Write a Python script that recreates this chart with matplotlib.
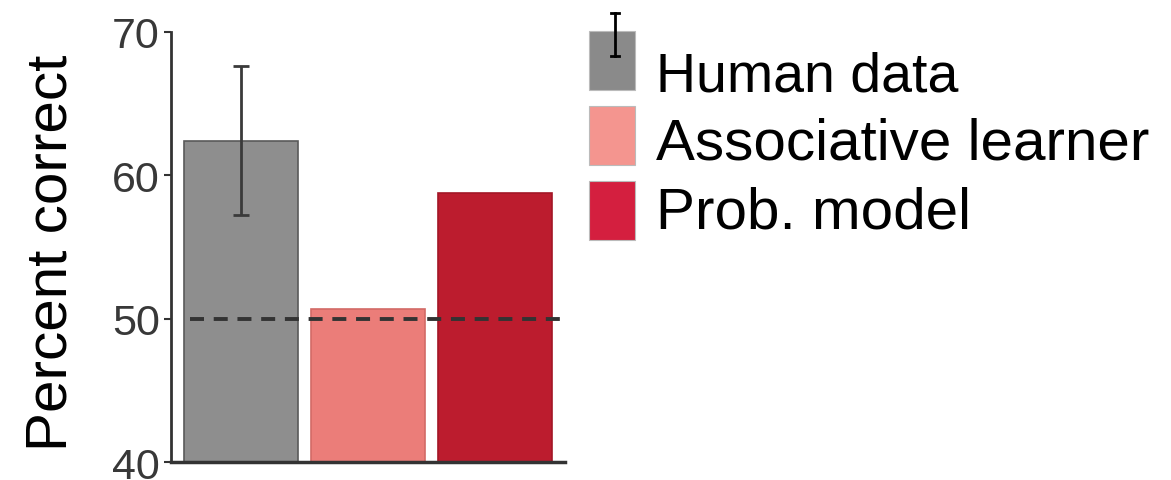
import matplotlib
matplotlib.use('Agg')
import matplotlib.pyplot as plt
from matplotlib.patches import Rectangle
from matplotlib.lines import Line2D

plt.rcParams['font.family'] = ['Liberation Sans', 'DejaVu Sans']

# percent correct per condition
labels = ['Human data', 'Associative learner', 'Prob. model']
values = [62.4, 50.7, 58.8]
human_err = 5.2
chance = 50
yticks = [40, 50, 60, 70]

bar_colors = ['#8e8e8e', '#eb7d79', '#bc1c2e']
bar_edges = ['#5a5a5a', '#d26a66', '#a31626']
legend_colors = ['#8a8a8a', '#f4958f', '#d41f3f']

W, H = 1171, 481
fig = plt.figure(figsize=(W / 100, H / 100), dpi=100)
ax = fig.add_axes([0.146, 0.0374, 0.3365, 0.894])

x = range(len(values))
ax.bar(x, values, width=0.9, color=bar_colors, edgecolor=bar_edges,
       linewidth=1.2, zorder=2)
ax.errorbar(0, values[0], yerr=human_err, fmt='none', ecolor='#3a3a3a',
            elinewidth=2, capsize=6, capthick=2, zorder=3)
ax.hlines(chance, -0.4, 2.55, colors='#333333', linestyles=(0, (3.6, 2.5)),
          linewidth=2.8, zorder=4)

ax.set_xlim(-0.55, 2.55)
ax.set_ylim(40, 70)
ax.set_yticks(yticks)
ax.set_xticks([])
for s in ['top', 'right']:
    ax.spines[s].set_visible(False)
ax.spines['left'].set_linewidth(2)
ax.spines['left'].set_color('#333333')
ax.spines['bottom'].set_linewidth(2.5)
ax.spines['bottom'].set_color('#333333')
ax.tick_params(axis='y', length=5, width=1.5, color='#333333', pad=3,
               labelsize=31, labelcolor='#383838')

fig.text(67 / W, 1 - 253 / H, 'Percent correct', rotation=90,
         rotation_mode='anchor', ha='center', va='baseline', fontsize=42)

# legend, drawn by hand in figure pixels
boxes = [(589, 32), (589, 107), (589, 182)]
baselines = [92, 160, 229]
sizes = [40, 42, 42]
for (bx, by), c, lab, ty, fs in zip(boxes, legend_colors, labels, baselines, sizes):
    fig.add_artist(Rectangle((bx / W, 1 - (by + 59) / H), 46 / W, 59 / H,
                             transform=fig.transFigure, facecolor=c,
                             edgecolor='#bbbbbb', linewidth=0.8))
    fig.text(656 / W, 1 - ty / H, lab, ha='left', va='baseline', fontsize=fs,
             color='black')

# error bar glyph on the human data swatch
ex = 615 / W
fig.add_artist(Line2D([ex, ex], [1 - 14 / H, 1 - 57 / H], color='black', lw=2))
for cy in [14, 57]:
    fig.add_artist(Line2D([ex - 4 / W, ex + 4 / W], [1 - cy / H, 1 - cy / H],
                          color='black', lw=2))

plt.savefig('out.png', dpi=100)
